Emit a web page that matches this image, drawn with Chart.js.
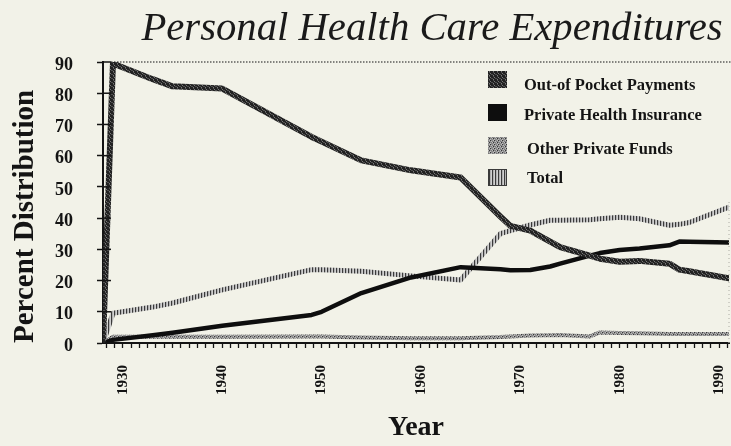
<!DOCTYPE html>
<html>
<head>
<meta charset="utf-8">
<title>Personal Health Care Expenditures</title>
<script src="https://cdn.jsdelivr.net/npm/chart.js@4.4.1/dist/chart.umd.min.js"></script>
<style>
  html, body { margin: 0; padding: 0; background: #f2f2e8; }
  #wrap { width: 731px; height: 446px; position: relative; }
</style>
</head>
<body>
<div id="wrap"><canvas id="c" width="731" height="446"></canvas></div>
<script>
// Share of personal health care spending by source of funds, percent
const years        = [1928, 1929, 1933, 1935, 1940, 1949, 1950, 1954, 1959, 1964, 1968, 1969, 1971, 1973, 1974, 1977, 1978, 1980, 1982, 1985, 1986, 1987, 1991];
const outOfPocket  = [0, 89.5, 84.5, 82.2, 81.5, 66.0, 64.5, 58.5, 55.3, 53.0, 40.5, 37.5, 36.0, 32.5, 30.7, 28.0, 27.0, 26.0, 26.3, 25.4, 23.5, 23.0, 20.7];
const privateIns   = [0, 1.0, 2.5, 3.3, 5.5, 9.0, 10.0, 16.0, 21.0, 24.3, 23.6, 23.3, 23.4, 24.5, 25.4, 28.0, 28.8, 29.8, 30.3, 31.3, 32.5, 32.4, 32.2];
const otherPrivate = [0, 2.0, 2.0, 2.0, 2.0, 2.1, 2.1, 1.8, 1.5, 1.5, 1.9, 2.1, 2.4, 2.5, 2.6, 2.1, 3.4, 3.2, 3.1, 2.9, 2.9, 2.9, 2.9];
const totalShare   = [0, 9.5, 11.5, 12.8, 17.0, 23.5, 23.5, 23.0, 21.5, 20.2, 35.0, 36.0, 37.8, 39.3, 39.3, 39.5, 39.8, 40.3, 39.8, 37.7, 38.0, 38.6, 43.5];

const seriesNames = ['Out-of Pocket Payments', 'Private Health Insurance', 'Other Private Funds', 'Total'];
const decadeLabels = [1930, 1940, 1950, 1960, 1970, 1980, 1990];
const yTicks = [0, 10, 20, 30, 40, 50, 60, 70, 80, 90];
const xTicksPerDecade = 12;

const SERIF = '"Liberation Serif", "Times New Roman", serif';
const INK = '#141414';

// Small repeating textures used for the line strokes and legend swatches
function texture(rows) {
  const h = rows.length, w = rows[0].length;
  const c = document.createElement('canvas');
  c.width = w; c.height = h;
  const g = c.getContext('2d');
  for (let y = 0; y < h; y++) {
    for (let x = 0; x < w; x++) {
      g.fillStyle = rows[y][x];
      g.fillRect(x, y, 1, 1);
    }
  }
  return g.createPattern(c, 'repeat');
}
const D = '#222222', M = '#4e4e4e', L = '#7a7a7a', G = '#8e8e8e', W = '#bdbdbd', K = '#363636';
const stippleDark = texture([
  [D, M, D, D],
  [D, D, L, D],
  [M, D, D, M],
  [D, L, D, D]
]);
const stippleGrey = texture([
  [G, W, K, G],
  [L, G, G, W],
  [W, K, G, L],
  [G, G, W, G]
]);
const stripes = texture([
  ['#3a3a3a', '#b0b0b0', '#cfcfcf']
]);
const solidBlack = '#0e0e0e';

function points(vals) {
  return years.map((yr, i) => ({ x: yr, y: vals[i] }));
}

const strokes = [stippleDark, solidBlack, stippleGrey, stripes];
const widths = [6, 4.5, 4, 5];
const seriesVals = [outOfPocket, privateIns, otherPrivate, totalShare];

const datasets = seriesNames.map((name, i) => ({
  label: name,
  data: points(seriesVals[i]),
  borderColor: strokes[i],
  backgroundColor: strokes[i],
  borderWidth: widths[i],
  pointRadius: 0,
  tension: 0,
  fill: false,
  borderJoinStyle: 'round',
  borderCapStyle: 'round'
}));

// Title, legend, dotted frame and inner axis ticks
const decorations = {
  id: 'decorations',
  beforeDraw(chart) {
    const { ctx } = chart;
    ctx.save();
    ctx.fillStyle = '#f2f2e8';
    ctx.fillRect(0, 0, chart.width, chart.height);
    ctx.restore();
  },
  afterDraw(chart) {
    const { ctx, chartArea: a } = chart;
    const ys = chart.scales.y;
    ctx.save();

    // dotted top edge and faint dotted right edge of the plot
    ctx.strokeStyle = INK;
    ctx.lineWidth = 1.2;
    ctx.setLineDash([1.5, 1.5]);
    ctx.beginPath();
    ctx.moveTo(a.left + 8, a.top);
    ctx.lineTo(chart.width, a.top);
    ctx.stroke();
    ctx.strokeStyle = '#b8b8b0';
    ctx.setLineDash([1, 3]);
    ctx.beginPath();
    ctx.moveTo(a.right, a.top + 140);
    ctx.lineTo(a.right, a.bottom);
    ctx.stroke();
    ctx.setLineDash([]);

    // y ticks cross the axis line
    ctx.strokeStyle = INK;
    ctx.lineWidth = 1.5;
    yTicks.forEach(v => {
      const py = ys.getPixelForValue(v);
      ctx.beginPath();
      ctx.moveTo(a.left, py);
      ctx.lineTo(a.left + 8, py);
      ctx.stroke();
    });

    // chart title
    ctx.fillStyle = '#1a1a1a';
    ctx.font = 'italic 40.7px ' + SERIF;
    ctx.textAlign = 'center';
    ctx.textBaseline = 'alphabetic';
    ctx.fillText('Personal Health Care Expenditures', 432, 40);

    // legend
    const boxY = [71, 104, 137, 169];
    const textY = [85.5, 116, 150, 179];
    const textX = [524, 524, 527, 527];
    ctx.font = 'bold 16.5px ' + SERIF;
    ctx.textAlign = 'left';
    ctx.textBaseline = 'middle';
    chart.data.datasets.forEach((ds, i) => {
      ctx.fillStyle = ds.borderColor;
      ctx.fillRect(488, boxY[i], 19, 17);
      if (i === 3) {
        ctx.strokeStyle = '#3a3a3a';
        ctx.lineWidth = 1;
        ctx.strokeRect(488.5, boxY[i] + 0.5, 18, 16);
      }
      ctx.fillStyle = INK;
      ctx.fillText(ds.label, textX[i], textY[i]);
    });
    ctx.restore();
  }
};

new Chart(document.getElementById('c'), {
  type: 'line',
  data: { datasets },
  plugins: [decorations],
  options: {
    responsive: false,
    animation: false,
    devicePixelRatio: 1,
    layout: { padding: { top: 62, right: 2, bottom: 0, left: 0 } },
    plugins: {
      legend: { display: false },
      title: { display: false },
      tooltip: { enabled: false }
    },
    scales: {
      x: {
        type: 'linear',
        min: 1928,
        max: 1991,
        // evenly spaced minor ticks, twelve per decade, decades labelled
        afterBuildTicks(s) {
          const step = 10 / xTicksPerDecade;
          const ticks = [];
          for (let k = -2; 1930 + k * step <= s.max + 1e-9; k++) {
            const v = 1930 + k * step;
            if (v >= s.min - 1e-9) ticks.push({ value: v, decade: k % xTicksPerDecade === 0 ? Math.round(v) : null });
          }
          s.ticks = ticks;
        },
        ticks: {
          autoSkip: false,
          minRotation: 90,
          maxRotation: 90,
          padding: 17,
          color: INK,
          font: { family: SERIF, size: 15, weight: 'bold' },
          callback: function (v, i, ticks) {
            const d = ticks[i].decade;
            return d && decadeLabels.includes(d) ? String(d) : '';
          }
        },
        grid: { drawOnChartArea: false, drawTicks: true, tickLength: 5, tickColor: INK, tickWidth: 1.3 },
        border: { display: true, color: INK, width: 2 },
        title: {
          display: true,
          text: 'Year',
          color: INK,
          font: { family: SERIF, size: 28, weight: 'bold' },
          padding: { top: 0, bottom: 1 }
        },
        afterFit(s) { s.height = 103; s.paddingLeft = 0; s.paddingRight = 0; }
      },
      y: {
        min: 0,
        max: 90,
        afterBuildTicks(s) { s.ticks = yTicks.map(v => ({ value: v })); },
        ticks: {
          color: INK,
          padding: 24,
          labelOffset: 3,
          font: { family: SERIF, size: 18, weight: 'bold' }
        },
        grid: { drawOnChartArea: false, drawTicks: true, tickLength: 6, tickColor: INK, tickWidth: 1.5 },
        border: { display: true, color: INK, width: 2 },
        title: {
          display: true,
          text: 'Percent Distribution',
          align: 'start',
          color: INK,
          font: { family: SERIF, size: 29, weight: 'bold' },
          padding: { top: 8, bottom: 0 }
        },
        afterFit(s) { s.width = 103; s.paddingTop = 0; s.paddingBottom = 0; }
      }
    }
  }
});
</script>
</body>
</html>
